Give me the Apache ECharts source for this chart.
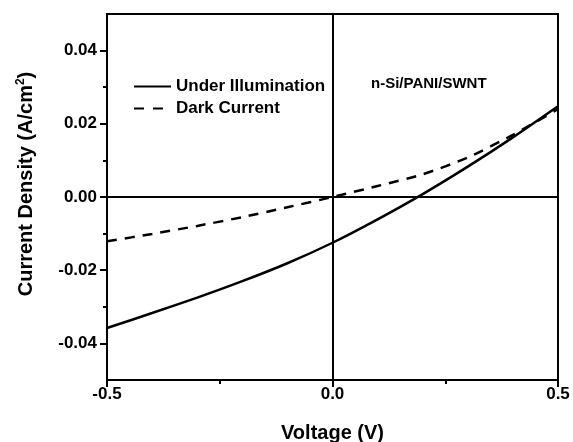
<!DOCTYPE html>
<html>
<head>
<meta charset="utf-8">
<script src="https://cdn.jsdelivr.net/npm/echarts@6/dist/echarts.min.js"></script>
<style>
  html, body { margin: 0; padding: 0; background: #fff; }
  #chart { width: 573px; height: 442px; }
</style>
</head>
<body>
<div id="chart"></div>
<script>
// J-V data
const voltage = [-0.5, -0.4, -0.3, -0.2, -0.1, 0, 0.1, 0.2, 0.3, 0.4, 0.5];
const illuminated = [-0.0358, -0.0317, -0.0275, -0.0230, -0.0181, -0.0125, -0.0061, 0.0008, 0.0083, 0.0163, 0.0248];
const dark = [-0.0121, -0.0101, -0.0079, -0.0055, -0.0028, 0.0, 0.0030, 0.0062, 0.0108, 0.0170, 0.0240];

const seriesNames = ['Under Illumination', 'Dark Current'];
const yMajor = [-0.04, -0.02, 0, 0.02, 0.04];
const yMinor = [-0.03, -0.01, 0.01, 0.03];
const xMajor = [-0.5, 0, 0.5];
const xMinor = [-0.25, 0.25];

const font = 'Liberation Sans, Arial, sans-serif';

let chart = echarts.init(document.getElementById('chart'));

let option = {
  animation: false,
  textStyle: { fontFamily: font },
  grid: {
    left: 107, right: 15, top: 14, bottom: 62,
    outerBoundsMode: 'none',
    show: true, borderColor: '#000', borderWidth: 2
  },
  legend: {
    orient: 'vertical',
    left: 128, top: 73,
    itemWidth: 37, itemHeight: 10, itemGap: 5,
    data: [
      { name: seriesNames[0] },
      { name: seriesNames[1], lineStyle: { type: [10, 9] } }
    ],
    itemStyle: { opacity: 0 },
    textStyle: { fontSize: 17, fontWeight: 'bold', color: '#000', fontFamily: font }
  },
  xAxis: [{
    type: 'value', min: -0.5, max: 0.5,
    name: 'Voltage (V)', nameLocation: 'middle', nameGap: 43,
    nameTextStyle: { fontSize: 20, fontWeight: 'bold', color: '#000', fontFamily: font },
    axisLine: { onZero: false, lineStyle: { color: '#000', width: 2 } },
    axisTick: { customValues: xMajor, length: 7, lineStyle: { color: '#000', width: 2 } },
    axisLabel: {
      customValues: xMajor, margin: 6,
      fontSize: 17, fontWeight: 'bold', color: '#000', fontFamily: font,
      formatter: v => v.toFixed(1)
    },
    splitLine: { show: false }
  }, {
    type: 'value', min: -0.5, max: 0.5, position: 'bottom',
    axisLine: { show: false, onZero: false },
    axisTick: { customValues: xMinor, length: 4, lineStyle: { color: '#000', width: 2 } },
    axisLabel: { show: false },
    splitLine: { show: false }
  }],
  yAxis: [{
    type: 'value', min: -0.05, max: 0.05,
    axisLine: { onZero: false, lineStyle: { color: '#000', width: 2 } },
    axisTick: { customValues: yMajor, length: 7, lineStyle: { color: '#000', width: 2 } },
    axisLabel: {
      customValues: yMajor, margin: 10,
      fontSize: 17, fontWeight: 'bold', color: '#000', fontFamily: font,
      formatter: v => v.toFixed(2)
    },
    splitLine: { show: false }
  }, {
    type: 'value', min: -0.05, max: 0.05, position: 'left',
    axisLine: { show: false, onZero: false },
    axisTick: { customValues: yMinor, length: 4, lineStyle: { color: '#000', width: 2 } },
    axisLabel: { show: false },
    splitLine: { show: false }
  }],
  graphic: [{
    type: 'text', x: 26, y: 184, rotation: Math.PI / 2,
    style: {
      text: '{m|Current Density (A/cm}{s|2}{m|)}',
      align: 'center', verticalAlign: 'middle',
      rich: {
        m: { fontSize: 20, fontWeight: 'bold', fill: '#000', fontFamily: font },
        s: { fontSize: 12, fontWeight: 'bold', fill: '#000', fontFamily: font, verticalAlign: 'top', padding: [0, 0, 10, 0] }
      }
    }
  }, {
    type: 'text', left: 371, top: 76,
    style: { text: 'n-Si/PANI/SWNT', fontSize: 15, fontWeight: 'bold', fill: '#000', fontFamily: font }
  }],
  series: [{
    name: seriesNames[0],
    type: 'line',
    smooth: 0.25,
    symbol: 'none',
    xAxisIndex: 0, yAxisIndex: 0,
    data: voltage.map((v, i) => [v, illuminated[i]]),
    lineStyle: { color: '#000', width: 2.5 },
    itemStyle: { color: '#000' },
    markLine: {
      silent: true, symbol: 'none', label: { show: false },
      lineStyle: { color: '#000', width: 2, type: 'solid' },
      data: [{ xAxis: 0 }, { yAxis: 0 }]
    }
  }, {
    name: seriesNames[1],
    type: 'line',
    smooth: 0.25,
    symbol: 'none',
    xAxisIndex: 0, yAxisIndex: 0,
    data: voltage.map((v, i) => [v, dark[i]]),
    lineStyle: { color: '#000', width: 2.5, type: [10, 8] },
    itemStyle: { color: '#000' }
  }]
};

chart.setOption(option);
</script>
</body>
</html>
